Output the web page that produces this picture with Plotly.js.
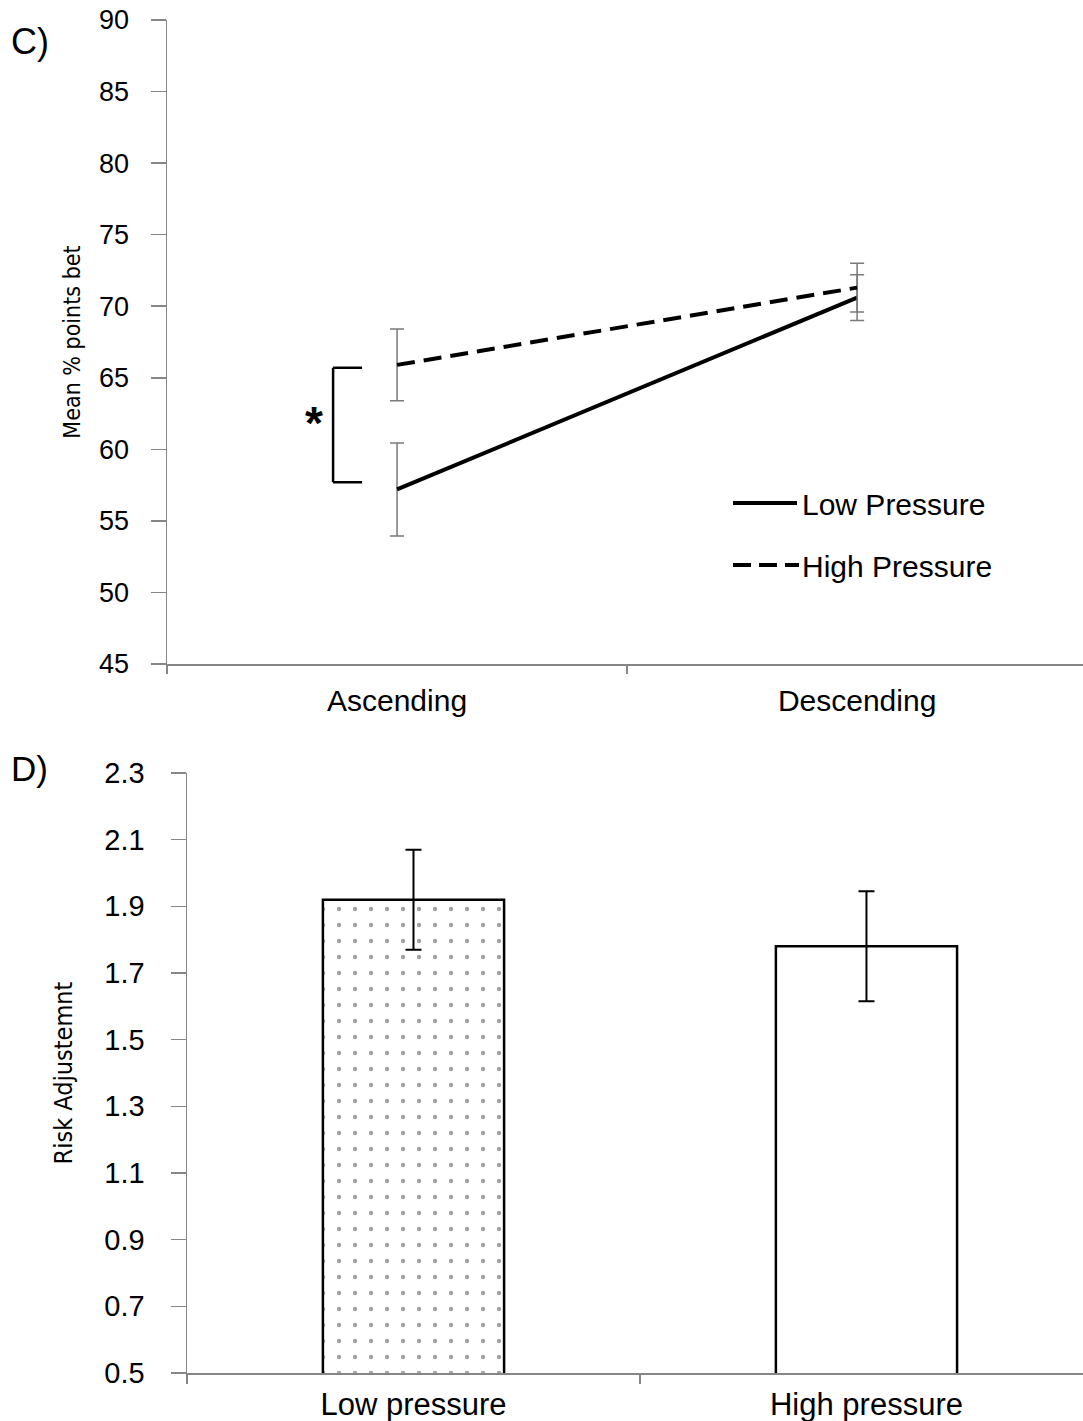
<!DOCTYPE html>
<html>
<head>
<meta charset="utf-8">
<script src="https://cdn.plot.ly/plotly-3.0.1.min.js"></script>
<style>
  html, body { margin: 0; padding: 0; background: #ffffff; }
  #chart { width: 1083px; height: 1421px; }
</style>
</head>
<body>
<div id="chart"></div>
<script>
// ---- Data (panel C) ----
var phases = ['Ascending', 'Descending'];
var lowPressureMean = [57.2, 70.6];
var lowPressureErr = [3.25, 1.6];
var highPressureMean = [65.9, 71.3];
var highPressureErr = [2.5, 1.7];
var seriesNames = ['Low Pressure', 'High Pressure'];

// ---- Data (panel D) ----
var groups = ['Low pressure', 'High pressure'];
var riskAdjustment = [1.92, 1.78];
var riskAdjustmentErr = [0.15, 0.165];

// ---- Tick labels ----
var panelCTicks = [45, 50, 55, 60, 65, 70, 75, 80, 85, 90];
var panelDTicks = [0.5, 0.7, 0.9, 1.1, 1.3, 1.5, 1.7, 1.9, 2.1, 2.3];

var FONT = 'Liberation Sans, Arial, Helvetica, sans-serif';
var NARROW = 'Liberation Sans Narrow, Arial Narrow, DejaVu Sans Condensed, sans-serif';
var AXIS_GRAY = '#868686';

var traces = [
  {
    type: 'scatter', mode: 'lines', name: seriesNames[0],
    x: phases, y: lowPressureMean, xaxis: 'x', yaxis: 'y',
    line: { color: '#000000', width: 4 },
    error_y: { type: 'data', array: lowPressureErr, visible: true, color: '#7a7a7a', thickness: 1.5, width: 7 },
    showlegend: false
  },
  {
    type: 'scatter', mode: 'lines', name: seriesNames[1],
    x: phases, y: highPressureMean, xaxis: 'x', yaxis: 'y',
    line: { color: '#000000', width: 4, dash: '18px,9px' },
    error_y: { type: 'data', array: highPressureErr, visible: true, color: '#7a7a7a', thickness: 1.5, width: 7 },
    showlegend: false
  },
  {
    type: 'bar', x: groups, y: riskAdjustment, xaxis: 'x2', yaxis: 'y2',
    width: 0.4,
    marker: {
      color: ['#ffffff', '#ffffff'],
      line: { color: '#000000', width: 2.5 },
      pattern: { shape: ['.', ''], size: 16, solidity: 0.06, fgcolor: '#000000', bgcolor: '#ffffff', fillmode: 'overlay' }
    },
    error_y: { type: 'data', array: riskAdjustmentErr, visible: true, color: '#000000', thickness: 2, width: 8 },
    showlegend: false
  }
];

var commonAxis = {
  showgrid: false, zeroline: false, showline: true,
  linecolor: AXIS_GRAY, linewidth: 1.5,
  ticks: 'outside', tickcolor: AXIS_GRAY, tickwidth: 1.5,
  automargin: false, fixedrange: true
};

var layout = {
  width: 1083, height: 1421,
  margin: { l: 0, r: 0, t: 0, b: 0 },
  paper_bgcolor: '#ffffff', plot_bgcolor: 'rgba(0,0,0,0)',
  font: { family: FONT, color: '#000000' },
  showlegend: false,
  xaxis: Object.assign({}, commonAxis, {
    domain: [167 / 1083, 1], anchor: 'y',
    type: 'category', range: [-0.5, 1.491],
    tickson: 'boundaries', ticklen: 8,
    ticklabelstandoff: 9,
    tickfont: { family: FONT, size: 30, color: '#000000' }
  }),
  yaxis: Object.assign({}, commonAxis, {
    domain: [1 - 664 / 1421, 1 - 20 / 1421], anchor: 'x',
    range: [45, 90], tickmode: 'array', tickvals: panelCTicks,
    ticklen: 15, ticklabelstandoff: 16,
    tickfont: { family: FONT, size: 27, color: '#000000' },
    title: { text: 'Mean % points bet', font: { family: NARROW, size: 23, color: '#000000' }, standoff: 12 }
  }),
  xaxis2: Object.assign({}, commonAxis, {
    domain: [187 / 1083, 1], anchor: 'y2',
    type: 'category', range: [-0.5, 1.478],
    tickson: 'boundaries', ticklen: 9,
    ticklabelstandoff: 3,
    tickfont: { family: FONT, size: 31, color: '#000000' }
  }),
  yaxis2: Object.assign({}, commonAxis, {
    domain: [1 - 1373 / 1421, 1 - 773 / 1421], anchor: 'x2',
    range: [0.5, 2.3], tickmode: 'array', tickvals: panelDTicks, tickformat: '.1f',
    ticklen: 15, ticklabelstandoff: 20,
    tickfont: { family: FONT, size: 29, color: '#000000' },
    title: { text: 'Risk Adjustemnt', font: { family: NARROW, size: 25, color: '#000000' }, standoff: 24 }
  }),
  shapes: [
    // significance bracket (panel C)
    { type: 'line', xref: 'x', yref: 'y', x0: -0.139, x1: -0.139, y0: 57.7, y1: 65.7, line: { color: '#000000', width: 2.5 } },
    { type: 'line', xref: 'x', yref: 'y', x0: -0.139, x1: -0.076, y0: 65.7, y1: 65.7, line: { color: '#000000', width: 2.5 } },
    { type: 'line', xref: 'x', yref: 'y', x0: -0.139, x1: -0.076, y0: 57.7, y1: 57.7, line: { color: '#000000', width: 2.5 } },
    // legend keys (panel C)
    { type: 'line', xref: 'paper', yref: 'paper', x0: 733 / 1083, x1: 797 / 1083, y0: 1 - 503 / 1421, y1: 1 - 503 / 1421, line: { color: '#000000', width: 4 } },
    { type: 'line', xref: 'paper', yref: 'paper', x0: 733 / 1083, x1: 799 / 1083, y0: 1 - 565 / 1421, y1: 1 - 565 / 1421, line: { color: '#000000', width: 4, dash: '18px,8px' } }
  ],
  annotations: [
    { text: 'C)', xref: 'paper', yref: 'paper', x: 9 / 1083, y: 1 - 41 / 1421, xanchor: 'left', yanchor: 'middle', showarrow: false, font: { family: FONT, size: 36, color: '#000000' } },
    { text: 'D)', xref: 'paper', yref: 'paper', x: 9 / 1083, y: 1 - 768 / 1421, xanchor: 'left', yanchor: 'middle', showarrow: false, font: { family: FONT, size: 35, color: '#000000' } },
    { text: '<b>*</b>', xref: 'x', yref: 'y', x: -0.18, y: 61.85, xanchor: 'center', yanchor: 'middle', showarrow: false, font: { family: FONT, size: 46, color: '#000000' } },
    { text: seriesNames[0], xref: 'paper', yref: 'paper', x: 800 / 1083, y: 1 - 504 / 1421, xanchor: 'left', yanchor: 'middle', showarrow: false, font: { family: FONT, size: 30, color: '#000000' } },
    { text: seriesNames[1], xref: 'paper', yref: 'paper', x: 800 / 1083, y: 1 - 566 / 1421, xanchor: 'left', yanchor: 'middle', showarrow: false, font: { family: FONT, size: 30, color: '#000000' } }
  ]
};

Plotly.newPlot('chart', traces, layout, { staticPlot: true, displayModeBar: false });
</script>
</body>
</html>
